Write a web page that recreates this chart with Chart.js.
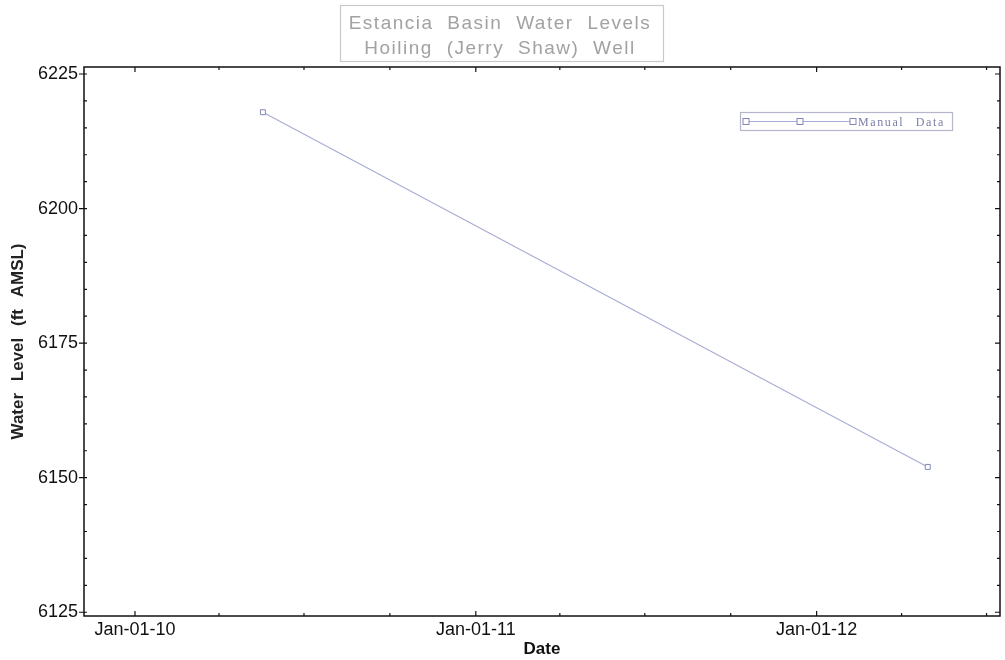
<!DOCTYPE html>
<html>
<head>
<meta charset="utf-8">
<script src="https://cdn.jsdelivr.net/npm/chart.js@4/dist/chart.umd.min.js"></script>
<style>
html,body{margin:0;padding:0;background:#fff;}
#wrap{width:1005px;height:660px;position:relative;}
</style>
</head>
<body>
<div id="wrap"><canvas id="c" width="1005" height="660"></canvas></div>
<script>
// ---- data ----
const titleLines = ['Estancia Basin Water Levels', 'Hoiling (Jerry Shaw) Well'];
const seriesLabel = 'Manual Data';
const sampleDates = ['2010-05-18', '2012-04-29'];
const waterLevels = [6217.9, 6152.0];
const xTickDates = ['2010-01-01', '2011-01-01', '2012-01-01'];
const xTickLabels = ['Jan-01-10', 'Jan-01-11', 'Jan-01-12'];
const yTicks = [6125, 6150, 6175, 6200, 6225];
const xAxisTitle = 'Date';
const yAxisTitle = 'Water Level (ft AMSL)';

const DAY = 86400000;
const t0 = Date.parse('2010-01-01');
const xMin = t0 - 54.6 * DAY;
const xMax = t0 + 926.4 * DAY;
const yMin = 6124.3;
const yMax = 6226.3;

const points = sampleDates.map((d, i) => ({x: Date.parse(d), y: waterLevels[i]}));
const xTickVals = xTickDates.map(d => Date.parse(d));

// minor tick positions (quarterly, every 5 ft)
const minorX = [];
for (let y = 2009; y <= 2012; y++) {
  for (let m = 0; m < 12; m += 3) {
    const v = Date.UTC(y, m, 1);
    if (v >= xMin && v <= xMax) minorX.push(v);
  }
}
const minorY = [];
for (let v = 6125; v <= 6225; v += 5) minorY.push(v);

const framePlugin = {
  id: 'frame',
  beforeDraw(chart) {
    const ctx = chart.ctx;
    if (chart.titleBlock && !chart.titleBlock._patched) {
      const tb = chart.titleBlock;
      const orig = tb.draw.bind(tb);
      tb.draw = function () {
        ctx.save();
        try { ctx.letterSpacing = '1.5px'; ctx.wordSpacing = '7px'; } catch (e) {}
        orig();
        ctx.restore();
      };
      tb._patched = true;
    }
    ['x', 'y'].forEach(id => {
      const s = chart.scales[id];
      if (s && !s._patched) {
        const o = s.drawTitle.bind(s);
        s.drawTitle = function (a) {
          ctx.save();
          try { ctx.wordSpacing = '7px'; } catch (e) {}
          o(a);
          ctx.restore();
        };
        s._patched = true;
      }
    });
  },
  afterDraw(chart) {
    const ctx = chart.ctx;
    const a = chart.chartArea;
    const xs = chart.scales.x, ys = chart.scales.y;
    ctx.save();
    // title box
    ctx.strokeStyle = '#c9c9c9';
    ctx.lineWidth = 1.2;
    ctx.strokeRect(340.5, 5.5, 323, 56);
    // frame
    ctx.strokeStyle = '#111';
    ctx.lineWidth = 1.5;
    ctx.strokeRect(a.left, a.top, a.right - a.left, a.bottom - a.top);
    ctx.lineWidth = 1.2;
    ctx.beginPath();
    minorX.forEach(v => {
      const p = xs.getPixelForValue(v);
      ctx.moveTo(p, a.bottom); ctx.lineTo(p, a.bottom - 3);
      ctx.moveTo(p, a.top); ctx.lineTo(p, a.top + 3);
    });
    xTickVals.forEach(v => {
      const p = xs.getPixelForValue(v);
      ctx.moveTo(p, a.bottom); ctx.lineTo(p, a.bottom - 5);
      ctx.moveTo(p, a.top); ctx.lineTo(p, a.top + 5);
    });
    minorY.forEach(v => {
      const p = ys.getPixelForValue(v);
      ctx.moveTo(a.left, p); ctx.lineTo(a.left + 3, p);
      ctx.moveTo(a.right, p); ctx.lineTo(a.right - 3, p);
    });
    yTicks.forEach(v => {
      const p = ys.getPixelForValue(v);
      ctx.moveTo(a.left - 5, p); ctx.lineTo(a.left, p);
      ctx.moveTo(a.right, p); ctx.lineTo(a.right - 5, p);
    });
    ctx.stroke();

    // legend
    const ds = chart.data.datasets[0];
    const lx = 740, ly = 112, lw = 212, lh = 18;
    ctx.strokeStyle = '#b4b6cc';
    ctx.lineWidth = 1.2;
    ctx.strokeRect(lx + 0.5, ly + 0.5, lw, lh);
    const cy = ly + lh / 2 + 0.5;
    ctx.strokeStyle = ds.borderColor;
    ctx.lineWidth = 1;
    ctx.beginPath();
    ctx.moveTo(746, cy); ctx.lineTo(853, cy);
    ctx.stroke();
    ctx.strokeStyle = ds.pointBorderColor;
    ctx.fillStyle = '#fff';
    [746, 800, 853].forEach(px => {
      ctx.fillRect(px - 3, cy - 3, 6, 6);
      ctx.strokeRect(px - 3, cy - 3, 6, 6);
    });
    ctx.fillStyle = '#7a7ea8';
    ctx.font = '12px "Liberation Serif", "Times New Roman", serif';
    ctx.textBaseline = 'middle';
    ctx.textAlign = 'left';
    try { ctx.letterSpacing = '1.6px'; ctx.wordSpacing = '7px'; } catch (e) {}
    ctx.fillText(ds.label, 858, cy + 1);
    ctx.restore();
  }
};

new Chart(document.getElementById('c'), {
  type: 'line',
  data: {
    datasets: [{
      label: seriesLabel,
      data: points,
      borderColor: '#a9add6',
      borderWidth: 1.2,
      pointStyle: 'rect',
      pointRadius: 3.5,
      pointBorderColor: '#8286ba',
      pointBorderWidth: 1,
      pointBackgroundColor: '#ffffff',
      fill: false,
      tension: 0
    }]
  },
  options: {
    responsive: false,
    animation: false,
    devicePixelRatio: 1,
    layout: {padding: {left: 0, right: 5, top: 0, bottom: 0}},
    plugins: {
      legend: {display: false},
      tooltip: {enabled: false},
      title: {
        display: true,
        text: titleLines,
        color: '#a2a2a2',
        font: {family: 'Arial, "Liberation Sans", sans-serif', size: 19, weight: 'normal', lineHeight: 25 / 19},
        padding: {top: 11, bottom: 6}
      }
    },
    scales: {
      x: {
        type: 'linear',
        min: xMin,
        max: xMax,
        grid: {display: false, drawTicks: false, tickLength: 0},
        border: {display: false},
        afterBuildTicks(scale) { scale.ticks = xTickVals.map(v => ({value: v})); },
        afterFit(scale) { scale.height = 44; },
        ticks: {
          autoSkip: false,
          maxRotation: 0,
          padding: 3,
          color: '#111',
          font: {family: 'Arial, "Liberation Sans", sans-serif', size: 18},
          callback(value) {
            const i = xTickVals.indexOf(value);
            return i >= 0 ? xTickLabels[i] : '';
          }
        },
        title: {
          display: true,
          text: xAxisTitle,
          color: '#111',
          font: {family: 'Arial, "Liberation Sans", sans-serif', size: 17, weight: 'bold'},
          padding: {top: 0, bottom: 0}
        }
      },
      y: {
        type: 'linear',
        min: yMin,
        max: yMax,
        grid: {display: false, drawTicks: false, tickLength: 0},
        border: {display: false},
        afterBuildTicks(scale) { scale.ticks = yTicks.map(v => ({value: v})); },
        afterFit(scale) { scale.width = 84; },
        ticks: {
          padding: 6,
          color: '#111',
          font: {family: 'Arial, "Liberation Sans", sans-serif', size: 18},
          callback(value) { return String(value); }
        },
        title: {
          display: true,
          text: yAxisTitle,
          color: '#222',
          font: {family: 'Arial, "Liberation Sans", sans-serif', size: 17, weight: 'bold'},
          padding: {top: 8, bottom: 0}
        }
      }
    }
  },
  plugins: [framePlugin]
});
</script>
</body>
</html>
